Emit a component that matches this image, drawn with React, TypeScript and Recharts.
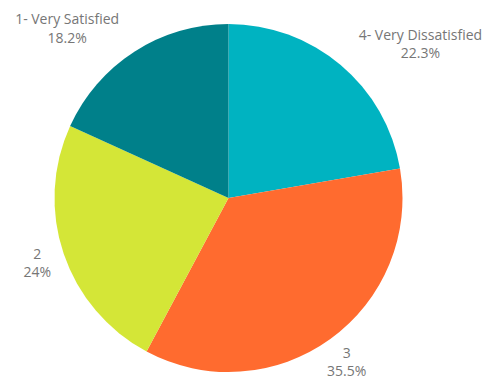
import { PieChart, Pie, Cell } from "recharts";

// Satisfaction survey split, clockwise from 12 o'clock
const CATEGORIES = ["4- Very Dissatisfied", "3", "2", "1- Very Satisfied"];
const SHARES = [22.3, 35.5, 24, 18.2];
const COLORS = ["#00b3c1", "#ff6b2f", "#d4e637", "#00808a"];

const data = CATEGORIES.map((name, i) => ({ name, value: SHARES[i] }));

const FAMILY = "'Open Sans', sans-serif";
const SIZE = 14;
const RAD = Math.PI / 180;

let ctx: CanvasRenderingContext2D | null = null;
function textWidth(s: string) {
  if (!ctx) ctx = document.createElement("canvas").getContext("2d");
  if (!ctx) return s.length * 7.5;
  ctx.font = `${SIZE}px ${FAMILY}`;
  return ctx.measureText(s).width;
}

// Two-line label: name over percentage. Upper labels hang away from the pie,
// lower ones sit centred on the anchor point.
function renderLabel(props: any) {
  const { cx, cy, midAngle, outerRadius, name, value } = props;
  const r = outerRadius + 28;
  const x = cx + r * Math.cos(-midAngle * RAD);
  const y = cy + r * Math.sin(-midAngle * RAD);
  const pct = `${value}%`;
  const w = Math.max(textWidth(name), textWidth(pct));
  let mx = x;
  if (y < cy) mx = x > cx ? x + w / 2 : x - w / 2;
  return (
    <g>
      <text x={mx} y={y - 4} textAnchor="middle" fill="#767676" fontFamily={FAMILY} fontSize={SIZE}>
        {name}
      </text>
      <text x={mx} y={y + 14.5} textAnchor="middle" fill="#767676" fontFamily={FAMILY} fontSize={SIZE}>
        {pct}
      </text>
    </g>
  );
}

export default function App() {
  return (
    <div style={{ position: "absolute", left: 0, top: 0, width: 499, height: 380, background: "#fff" }}>
      <PieChart width={499} height={380} margin={{ top: 0, right: 0, bottom: 0, left: 0 }}>
        <Pie
          data={data}
          dataKey="value"
          nameKey="name"
          cx={228.5}
          cy={198}
          outerRadius={174}
          startAngle={90}
          endAngle={-270}
          stroke="none"
          labelLine={false}
          label={renderLabel}
          isAnimationActive={false}
        >
          {data.map((d, i) => (
            <Cell key={d.name} fill={COLORS[i]} />
          ))}
        </Pie>
      </PieChart>
    </div>
  );
}
